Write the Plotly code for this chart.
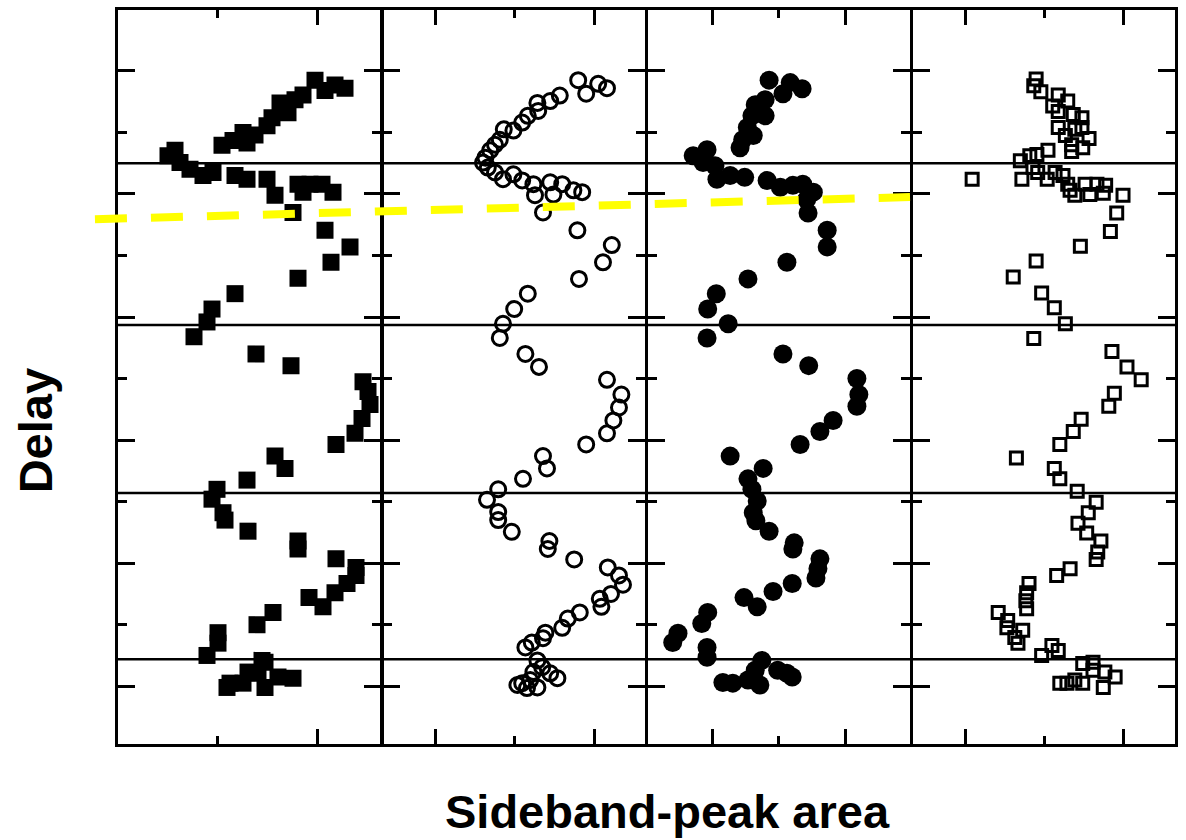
import plotly.graph_objects as go

# Delay axis (units of one minor tick) shared by all four panels
delay_range = [-0.939, 10.99]
# Delays where the horizontal reference lines cross every panel
period_marks = [0.44, 3.14, 5.87, 8.50]
# Yellow dashed guide: delay at its left and right end
guide_delay = [7.59, 7.95]

# Panel A: filled squares
area_a = [1.98, 2.28, 2.18, 2.08, 1.86, 1.78, 1.63, 1.71, 1.55, 1.50,
          1.38, 1.26, 1.30, 1.16, 1.05, 0.58, 0.51, 0.63, 0.73, 0.86,
          0.96, 1.18, 1.30, 1.50, 1.58, 1.81, 1.93, 2.05, 2.16, 1.86,
          1.76, 2.08, 2.33, 2.14, 1.81, 1.18, 0.95, 0.90, 0.77, 1.39,
          1.74, 2.46, 2.51, 2.53, 2.45, 2.38, 2.19, 1.58, 1.68, 1.30,
          1.00, 0.95, 1.06, 1.08, 1.31, 1.81, 1.81, 2.19, 2.39, 2.39,
          2.30, 2.18, 1.92, 2.06, 1.56, 1.40, 1.01, 1.01, 0.90, 1.45,
          1.48, 1.13, 1.10, 1.26, 1.41, 1.48, 1.61, 1.76, 1.31]
delay_a = [9.85, 9.72, 9.77, 9.68, 9.61, 9.53, 9.48, 9.32, 9.24, 9.11,
           8.96, 9.00, 8.83, 8.87, 8.79, 8.71, 8.62, 8.51, 8.40, 8.30,
           8.35, 8.30, 8.24, 8.24, 7.98, 8.16, 8.16, 8.16, 8.03, 8.03,
           7.70, 7.41, 7.14, 6.89, 6.63, 6.38, 6.13, 5.92, 5.68, 5.40,
           5.21, 4.95, 4.79, 4.58, 4.35, 4.11, 3.93, 3.74, 3.54, 3.35,
           3.20, 3.04, 2.82, 2.70, 2.52, 2.36, 2.23, 2.07, 1.93, 1.80,
           1.67, 1.52, 1.44, 1.29, 1.20, 1.00, 0.87, 0.70, 0.50, 0.42,
           0.39, 0.05, -0.02, 0.05, 0.21, -0.02, 0.15, 0.13, 0.23]

# Panel B: open circles
area_b = [1.79, 2.04, 2.15, 1.89, 1.56, 1.44, 1.28, 1.29, 1.16, 1.09,
          0.98, 0.86, 0.81, 0.75, 0.69, 0.63, 0.60, 0.66, 0.75, 0.85,
          0.98, 1.09, 1.23, 1.44, 1.59, 1.73, 1.84, 1.25, 1.48, 1.35,
          1.78, 2.21, 2.10, 1.80, 1.16, 0.99, 0.85, 0.81, 1.13, 1.30,
          2.15, 2.33, 2.30, 2.23, 2.15, 1.89, 1.35, 1.40, 1.10, 0.79,
          0.65, 0.79, 0.79, 0.96, 1.43, 1.41, 1.74, 2.16, 2.30, 2.35,
          2.20, 2.06, 2.08, 1.81, 1.66, 1.59, 1.38, 1.35, 1.21, 1.13,
          1.28, 1.34, 1.23, 1.44, 1.53, 1.09, 1.03, 1.19, 1.28, 1.15]
delay_b = [9.85, 9.79, 9.72, 9.63, 9.60, 9.51, 9.48, 9.35, 9.27, 9.16,
           9.03, 9.05, 8.88, 8.80, 8.71, 8.59, 8.51, 8.43, 8.35, 8.24,
           8.32, 8.22, 8.16, 8.19, 8.16, 8.06, 8.03, 7.98, 7.99, 7.70,
           7.41, 7.17, 6.89, 6.62, 6.38, 6.13, 5.89, 5.66, 5.40, 5.19,
           4.98, 4.74, 4.53, 4.32, 4.11, 3.93, 3.74, 3.54, 3.37, 3.20,
           3.03, 2.83, 2.70, 2.51, 2.36, 2.23, 2.06, 1.93, 1.80, 1.65,
           1.50, 1.42, 1.29, 1.20, 1.10, 0.95, 0.87, 0.78, 0.71, 0.63,
           0.42, 0.31, 0.23, 0.21, 0.13, 0.05, 0.02, 0.10, -0.02, -0.03]

# Panel C: filled circles
area_c = [0.85, 1.17, 1.35, 1.06, 0.79, 0.64, 0.79, 0.59, 0.52, 0.61,
          0.45, 0.41, -0.09, -0.30, -0.15, 0.03, 0.06, 0.26, 0.48, 0.82,
          1.02, 1.21, 1.36, 1.52, 1.42, 1.44, 1.73, 1.73, 1.12, 0.53,
          0.05, -0.08, 0.23, -0.09, 1.06, 1.45, 2.18, 2.21, 2.18, 1.82,
          1.62, 1.32, 0.26, 0.76, 0.53, 0.59, 0.67, 0.61, 0.65, 0.85,
          1.23, 1.21, 1.62, 1.59, 1.56, 1.20, 0.91, 0.47, 0.67, -0.08,
          -0.17, -0.53, -0.61, -0.09, -0.09, 0.74, 0.64, 0.15, 0.30, 0.53,
          0.71, 0.98, 1.20, 1.12]
delay_c = [9.85, 9.81, 9.71, 9.63, 9.53, 9.45, 9.27, 9.27, 9.08, 8.95,
           8.88, 8.75, 8.72, 8.62, 8.51, 8.46, 8.24, 8.30, 8.27, 8.22,
           8.11, 8.14, 8.16, 8.03, 7.91, 7.69, 7.41, 7.14, 6.89, 6.62,
           6.38, 6.13, 5.89, 5.66, 5.40, 5.21, 5.00, 4.74, 4.55, 4.32,
           4.14, 3.93, 3.74, 3.54, 3.37, 3.20, 3.01, 2.82, 2.69, 2.52,
           2.33, 2.23, 2.07, 1.91, 1.76, 1.67, 1.54, 1.44, 1.29, 1.20,
           1.02, 0.86, 0.71, 0.63, 0.47, 0.42, 0.26, 0.06, 0.05, 0.10,
           0.02, 0.26, 0.15, 0.21]

# Panel D: open squares
area_d = [0.90, 0.87, 0.96, 1.18, 1.30, 1.11, 1.18, 1.37, 1.48, 1.18,
          1.39, 1.48, 1.27, 1.57, 1.35, 1.49, 1.35, 1.05, 0.91, 0.82,
          0.70, 0.09, 0.72, 0.86, 0.92, 1.04, 1.14, 1.24, 1.30, 1.33,
          1.39, 1.52, 1.67, 1.78, 1.75, 1.58, 2.00, 1.92, 1.84, 1.46,
          0.90, 0.61, 0.97, 1.13, 1.27, 0.87, 1.86, 2.05, 2.23, 1.89,
          1.82, 1.47, 1.37, 1.20, 0.65, 1.13, 1.20, 1.42, 1.66, 1.56,
          1.43, 1.54, 1.72, 1.68, 1.66, 1.33, 1.16, 0.81, 0.78, 0.77,
          0.78, 0.42, 0.54, 0.73, 0.53, 0.63, 0.67, 0.97, 1.10, 1.18,
          1.49, 1.62, 1.77, 1.90, 1.20, 1.29, 1.39, 1.49, 1.75, 1.62]
delay_d = [9.87, 9.76, 9.66, 9.61, 9.51, 9.43, 9.34, 9.29, 9.24, 9.08,
           9.05, 9.08, 8.95, 8.90, 8.80, 8.75, 8.69, 8.71, 8.64, 8.62,
           8.54, 8.24, 8.24, 8.43, 8.35, 8.24, 8.35, 8.30, 8.16, 8.06,
           7.98, 8.16, 8.16, 8.14, 8.01, 7.99, 7.98, 7.69, 7.39, 7.15,
           6.91, 6.65, 6.39, 6.15, 5.89, 5.65, 5.44, 5.19, 4.98, 4.76,
           4.55, 4.34, 4.14, 3.93, 3.71, 3.54, 3.37, 3.17, 2.99, 2.82,
           2.65, 2.49, 2.36, 2.18, 2.06, 1.91, 1.80, 1.67, 1.52, 1.39,
           1.26, 1.20, 1.07, 0.91, 0.95, 0.79, 0.70, 0.50, 0.66, 0.58,
           0.37, 0.39, 0.23, 0.15, 0.05, 0.05, 0.10, 0.05, -0.02, 0.26]

# Horizontal (sideband-peak area) range of each panel, in its own tick units
area_ranges = [[0.01, 2.635], [-0.644, 2.619], [-0.992, 2.977], [-0.665, 2.658]]
# Panel domains leave a frame-line-wide gap so neighbouring frames coincide
panel_domains = [[0.0, 0.24835], [0.25118, 0.49811], [0.50095, 0.74882], [0.75166, 1.0]]

panels = [
    (area_a, delay_a, dict(symbol="square", size=17, color="black")),
    (area_b, delay_b, dict(symbol="circle-open", size=15, color="black",
                           line=dict(width=3, color="black"))),
    (area_c, delay_c, dict(symbol="circle", size=19, color="black")),
    (area_d, delay_d, dict(symbol="square-open", size=12, color="black",
                           line=dict(width=3, color="black"))),
]

fig = go.Figure()
layout = {}
for i, (xs, ys, marker) in enumerate(panels, start=1):
    suffix = "" if i == 1 else str(i)
    fig.add_trace(go.Scatter(
        x=xs, y=ys, mode="markers", marker=marker, showlegend=False,
        xaxis="x" + suffix, yaxis="y" + suffix, hoverinfo="x+y",
    ))
    common = dict(
        showline=True, linecolor="black", linewidth=3, mirror="ticks",
        ticks="inside", tickcolor="black", tickwidth=2.5, tick0=0, dtick=2,
        showticklabels=False, showgrid=False, zeroline=False,
    )
    layout["xaxis" + suffix] = dict(
        common, domain=panel_domains[i - 1], range=area_ranges[i - 1],
        anchor="y" + suffix, ticklen=15,
        minor=dict(ticks="inside", tick0=0, dtick=1, ticklen=8,
                   tickwidth=2.5, tickcolor="black", showgrid=False),
    )
    layout["yaxis" + suffix] = dict(
        common, domain=[0, 1], range=delay_range, anchor="x" + suffix,
        ticklen=17,
        minor=dict(ticks="inside", tick0=0, dtick=1, ticklen=9,
                   tickwidth=2.5, tickcolor="black", showgrid=False),
    )

shapes = []
for d in period_marks:
    shapes.append(dict(type="line", xref="paper", yref="y", x0=0, x1=1,
                       y0=d, y1=d, line=dict(color="black", width=2.5),
                       layer="above"))
shapes.append(dict(type="line", xref="paper", yref="y",
                   x0=-0.0218, x1=0.7493, y0=guide_delay[0], y1=guide_delay[1],
                   line=dict(color="#FFFF00", width=8, dash="32px,24px"),
                   layer="above"))

title_font = dict(family="Liberation Sans, Arial, sans-serif", size=47, color="black")
annotations = [
    dict(text="<b>Delay</b>", xref="paper", yref="paper", x=-0.0785, y=0.426,
         textangle=-90, showarrow=False, xanchor="center", yanchor="middle",
         font=title_font),
    dict(text="<b>Sideband-peak area</b>", xref="paper", yref="paper",
         x=0.5195, y=-0.0923, showarrow=False, xanchor="center", yanchor="middle",
         font=title_font),
]

fig.update_layout(
    **layout,
    shapes=shapes,
    annotations=annotations,
    width=1186, height=840, autosize=False,
    margin=dict(l=118, r=11, t=7, b=96),
    plot_bgcolor="white", paper_bgcolor="white",
    showlegend=False,
)

fig.write_html("out.html")
